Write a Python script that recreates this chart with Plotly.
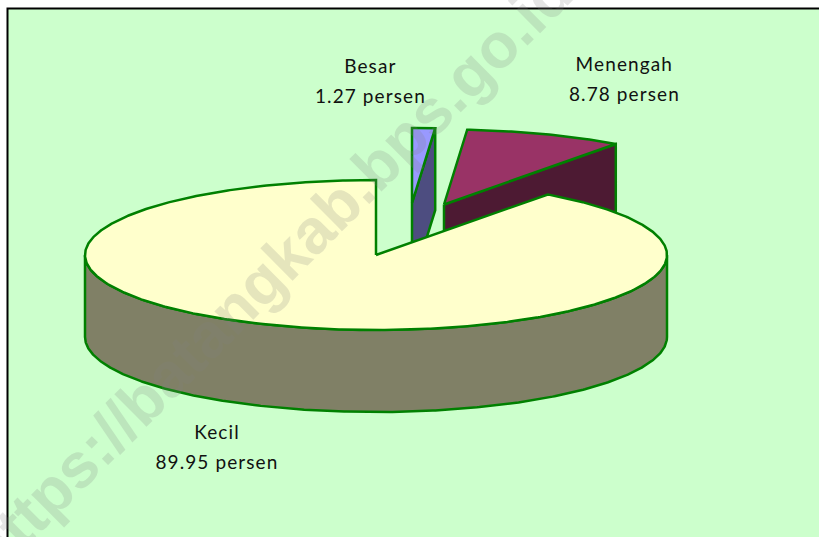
import numpy as np
import plotly.graph_objects as go

categories = ["Kecil", "Menengah", "Besar"]
shares = [89.95, 8.78, 1.27]
unit = "persen"

W, H = 819, 537
RX, RY, DEPTH = 291, 75, 82
CENTRES = {"Kecil": (376, 255), "Menengah": (444, 204.5), "Besar": (412, 203)}
TOP = {"Kecil": "#FFFFCC", "Menengah": "#993366", "Besar": "#9999FF"}
SIDE = {"Kecil": "#808066", "Menengah": "#4D1A33", "Besar": "#4D4D80"}
EDGE = "#008000"
LABELS = {"Kecil": (217, 431, 461), "Menengah": (624, 63, 93), "Besar": (370, 65, 95)}

order = ["Besar", "Menengah", "Kecil"]
share = dict(zip(categories, shares))
total = sum(shares)
spans, a0 = {}, 0.0
for c in order:
    a1 = a0 + share[c] / total * 360
    spans[c] = (a0, a1)
    a0 = a1


def arc(c, a, b, dy=0.0):
    t = np.radians(np.linspace(a, b, max(int(abs(b - a)) * 2, 8)))
    cx, cy = CENTRES[c]
    return cx + RX * np.sin(t), cy - RY * np.cos(t) + dy


def poly(x, y, fill):
    x = np.append(x, x[0])
    y = np.append(y, y[0])
    return go.Scatter(x=x, y=y, mode="lines", fill="toself", fillcolor=fill,
                      line=dict(color=EDGE, width=2.5), hoverinfo="skip", showlegend=False)


fig = go.Figure()

for c in ["Besar", "Menengah"]:
    a, b = spans[c]
    cx, cy = CENTRES[c]
    ex, ey = arc(c, b, b + 0.001)
    ex, ey = ex[0], ey[0]
    fig.add_trace(poly(np.array([cx, ex, ex, cx]),
                       np.array([cy, ey, ey + DEPTH, cy + DEPTH]), SIDE[c]))
    ax, ay = arc(c, a, b)
    fig.add_trace(poly(np.concatenate([[cx], ax]), np.concatenate([[cy], ay]), TOP[c]))

a, b = spans["Kecil"]
cx, cy = CENTRES["Kecil"]
fx, fy = arc("Kecil", 90, 270)
bx, by = arc("Kecil", 270, 90, DEPTH)
fig.add_trace(poly(np.concatenate([fx, bx]), np.concatenate([fy, by]), SIDE["Kecil"]))
ax, ay = arc("Kecil", a, b)
fig.add_trace(poly(np.concatenate([[cx], ax]), np.concatenate([[cy], ay]), TOP["Kecil"]))

annotations = []
for c in categories:
    lx, y1, y2 = LABELS[c]
    for txt, ly in ((c, y1), (f"{share[c]} {unit}", y2)):
        annotations.append(dict(x=lx, y=ly, text=txt, showarrow=False, xanchor="center",
                                yanchor="middle", font=dict(family="Lato", size=19, color="#111111")))

annotations.append(dict(x=270, y=272, text="https://batangkab.bps.go.id", showarrow=False,
                        textangle=-45, xanchor="center", yanchor="middle", opacity=0.2,
                        font=dict(family="Liberation Sans", size=63, color="#808080", weight="bold")))
mark_index = len(annotations) - 1

fig.update_layout(
    width=W, height=H, autosize=False,
    margin=dict(l=0, r=0, t=0, b=0),
    paper_bgcolor="#FFFFFF", plot_bgcolor="#FFFFFF",
    xaxis=dict(range=[0, W], visible=False, fixedrange=True),
    yaxis=dict(range=[H, 0], visible=False, fixedrange=True),
    annotations=annotations,
    shapes=[dict(type="rect", layer="below", x0=7.5, y0=8.5, x1=W + 5, y1=H + 5,
                 fillcolor="#CCFFCC", line=dict(color="#000000", width=2))],
)
page_fix = """
document.body.style.margin = '0';
document.documentElement.style.overflow = 'hidden';
var s = document.createElement('style');
s.textContent = '.annotation-text{letter-spacing:1.1px}'
  + '.annotation[data-index="%d"] .annotation-text{letter-spacing:0}';
document.head.appendChild(s);
""" % mark_index
fig.write_html("out.html", config={"displayModeBar": False}, post_script=page_fix)
